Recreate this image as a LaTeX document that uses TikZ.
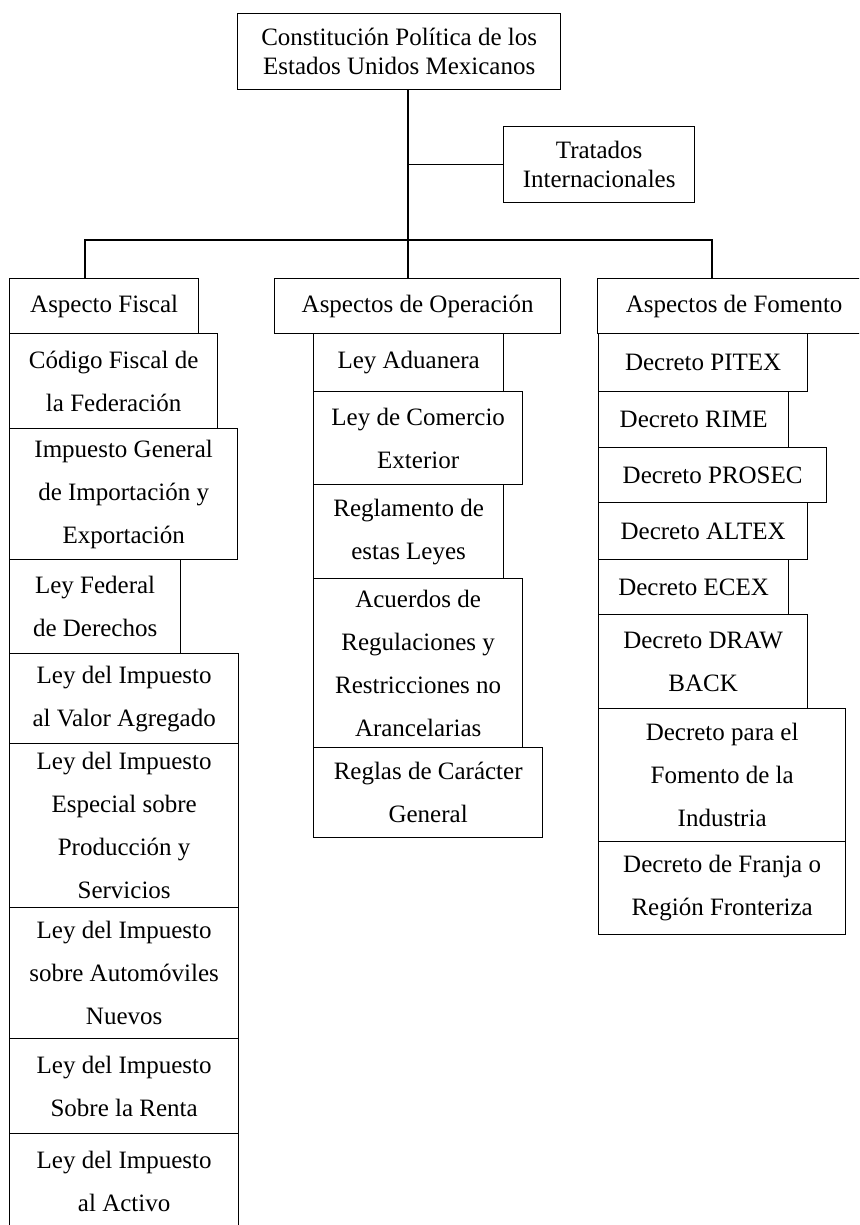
\documentclass[tikz,border=0pt]{standalone}
\usepackage{fontspec}
\setmainfont{Liberation Serif}

% one box of the chart: [style]{name}{x1}{y1}{x2}{y2}{text}
\newcommand{\lawbox}[7][box]{%
  \node[#1, minimum width={#5-#3}, minimum height={#6-#4}] (#2) at (#3,#4) {#7};}

\begin{document}
\begin{tikzpicture}[x=1pt, y=-1pt, line width=1.3pt,
    box/.style={draw, inner sep=2pt, align=center, anchor=north west,
                font=\fontsize{25}{43}\selectfont},
    head/.style={box, font=\fontsize{25}{29}\selectfont}]

    \useasboundingbox (0,0) rectangle (859,1225);
    \clip (0,0) rectangle (859,1225);

    % top of the chart
    \lawbox[head]{top}{237}{13}{560}{89}{Constitución Política de los\\Estados Unidos Mexicanos}
    \lawbox[head]{trat}{503}{126}{694}{202}{Tratados\\Internacionales}

    % the three aspects
    \lawbox{fiscal}{9}{278}{198}{333}{Aspecto Fiscal}
    \lawbox{oper}{274}{278}{560}{333}{Aspectos de Operación}
    \lawbox{foment}{597}{278}{870}{333}{Aspectos de Fomento}

    % fiscal column
    \lawbox{codigo}{9}{333}{217}{428}{Código Fiscal de\\la Federación}
    \lawbox{igie}{9}{428}{237}{559}{Impuesto General\\de Importación y\\Exportación}
    \lawbox{lfd}{9}{559}{180}{653}{Ley Federal\\de Derechos}
    \lawbox{iva}{9}{653}{238}{743}{Ley del Impuesto\\al Valor Agregado}
    \lawbox{ieps}{9}{743}{238}{907}{Ley del Impuesto\\Especial sobre\\Producción y\\Servicios}
    \lawbox{isan}{9}{907}{238}{1038}{Ley del Impuesto\\sobre Automóviles\\Nuevos}
    \lawbox{isr}{9}{1038}{238}{1133}{Ley del Impuesto\\Sobre la Renta}
    \lawbox{ia}{9}{1133}{238}{1228}{Ley del Impuesto\\al Activo}

    % operation column
    \lawbox{aduanera}{313}{333}{503}{391}{Ley Aduanera}
    \lawbox{lce}{313}{391}{522}{484}{Ley de Comercio\\Exterior}
    \lawbox{reglam}{313}{484}{503}{578}{Reglamento de\\estas Leyes}
    \lawbox{acuerdos}{313}{578}{522}{747}{Acuerdos de\\Regulaciones y\\Restricciones no\\Arancelarias}
    \lawbox{reglas}{313}{747}{542}{837}{Reglas de Carácter\\General}

    % promotion column
    \lawbox{pitex}{598}{333}{807}{391}{Decreto PITEX}
    \lawbox{rime}{598}{391}{788}{447}{Decreto RIME}
    \lawbox{prosec}{598}{447}{826}{502}{Decreto PROSEC}
    \lawbox{altex}{598}{502}{807}{559}{Decreto ALTEX}
    \lawbox{ecex}{598}{559}{788}{614}{Decreto ECEX}
    \lawbox{drawback}{598}{614}{807}{708}{Decreto DRAW\\BACK}
    \lawbox{fomind}{598}{708}{845}{841}{Decreto para el\\Fomento de la\\Industria}
    \lawbox{franja}{598}{841}{845}{934}{Decreto de Franja o\\Región Fronteriza}

    % connectors
    \coordinate (hub) at (408,240);
    \coordinate (dropL) at (85,240);
    \coordinate (dropR) at (712,240);
    \draw (hub |- top.south) -- (hub |- oper.north);
    \draw (hub |- trat.west) -- (trat.west);
    \draw (dropL |- fiscal.north) -- (dropL) -- (dropR) -- (dropR |- foment.north);
\end{tikzpicture}
\end{document}
